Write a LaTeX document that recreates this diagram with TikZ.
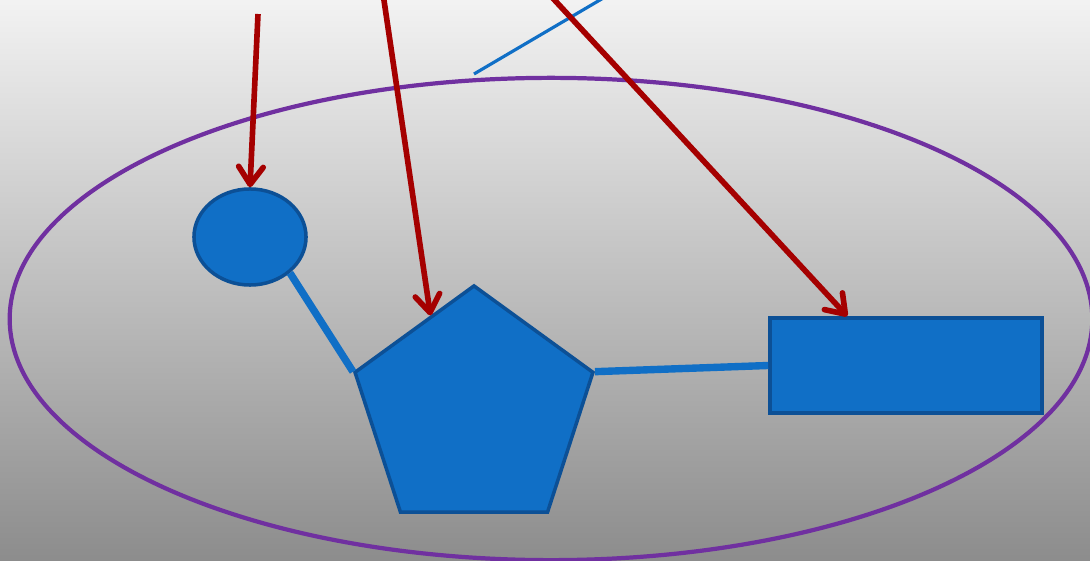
\documentclass[tikz,border=0pt]{standalone}
\usetikzlibrary{shapes.geometric,arrows.meta,calc}
\definecolor{shapeblue}{RGB}{16,111,198}
\definecolor{edgeblue}{RGB}{12,80,150}
\definecolor{arrowred}{RGB}{165,0,0}
\definecolor{ringpurple}{RGB}{112,48,160}
\tikzset{
  part/.style={fill=shapeblue,draw=edgeblue,line width=1pt,inner sep=0pt},
  link/.style={shapeblue,line width=2.1pt},
  pointer/.style={arrowred,line width=1.6pt,-{Straight Barb[length=5pt,width=7pt,round]}}
}
\begin{document}
\begin{tikzpicture}[x=0.01cm,y=-0.01cm]
\useasboundingbox (0,0) rectangle (1090,561);
\fill[top color=black!5,bottom color=black!45] (0,0) rectangle (1090,561);

\node[draw=ringpurple,line width=1.2pt,ellipse,minimum width=10.82cm,minimum height=4.82cm] (cell) at (551,319) {};
\node[part,ellipse,minimum width=1.12cm,minimum height=0.96cm] (head) at (250,237) {};
\node[part,regular polygon,regular polygon sides=5,minimum size=2.5cm] (body) at (474,411) {};
\node[part,rectangle,minimum width=2.72cm,minimum height=0.95cm] (tail) at (906,365.5) {};

\draw[link] (head.-42) -- (body.corner 2);
\draw[link] (body.corner 5) -- (tail.west);

\coordinate (s1) at (258,14);
\coordinate (s2) at (381,-20);
\coordinate (s3) at (536,-20);
\coordinate (t1) at (474,74);
\coordinate (t2) at (634,-20);
\draw[shapeblue,line width=0.9pt] (t1) -- (t2);
\draw[pointer] (s1) -- (head.north);
\draw[pointer] (s2) -- ($(body.corner 1)!0.36!(body.corner 2)$);
\draw[pointer] (s3) -- ($(tail.north west)!0.287!(tail.north east)$);
\end{tikzpicture}
\end{document}
